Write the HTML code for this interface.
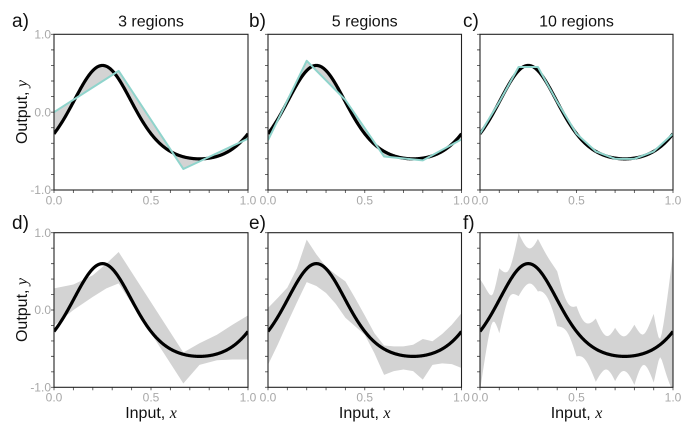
<!DOCTYPE html>
<html>
<head>
<meta charset="utf-8">
<style>
html,body{margin:0;padding:0;background:#ffffff;}
svg{display:block;}
text{font-family:"Liberation Sans",sans-serif;}
.lbl{font-size:19px;fill:#111;}
.ttl{font-size:16px;fill:#111;}
.ax{font-size:16px;fill:#111;}
.tk{font-size:12px;fill:#a8a8a8;}
.m{font-family:"Liberation Serif",serif;font-style:italic;}
</style>
</head>
<body>
<svg id="s" width="690" height="432" viewBox="0 0 690 432" xmlns="http://www.w3.org/2000/svg">
<g id="plots"></g>
<!-- panel letters -->
<text class="lbl" x="12" y="27">a)</text>
<text class="lbl" x="249" y="27">b)</text>
<text class="lbl" x="463" y="27">c)</text>
<text class="lbl" x="12" y="229">d)</text>
<text class="lbl" x="249" y="229">e)</text>
<text class="lbl" x="463" y="229">f)</text>
<!-- titles -->
<text class="ttl" x="151" y="26.5" text-anchor="middle">3 regions</text>
<text class="ttl" x="364.7" y="26.5" text-anchor="middle">5 regions</text>
<text class="ttl" x="576.5" y="26.5" text-anchor="middle">10 regions</text>
<!-- y labels -->
<text class="ax" transform="translate(27,112) rotate(-90)" text-anchor="middle">Output, <tspan class="m">y</tspan></text>
<text class="ax" transform="translate(27,310) rotate(-90)" text-anchor="middle">Output, <tspan class="m">y</tspan></text>
<!-- x labels -->
<text class="ax" x="151" y="418" text-anchor="middle">Input, <tspan class="m">x</tspan></text>
<text class="ax" x="364.7" y="418" text-anchor="middle">Input, <tspan class="m">x</tspan></text>
<text class="ax" x="576.5" y="418" text-anchor="middle">Input, <tspan class="m">x</tspan></text>
<!-- y tick labels -->
<text class="tk" x="51" y="38.5" text-anchor="end">1.0</text>
<text class="tk" x="51" y="116.4" text-anchor="end">0.0</text>
<text class="tk" x="51" y="194.2" text-anchor="end">-1.0</text>
<text class="tk" x="51" y="236.9" text-anchor="end">1.0</text>
<text class="tk" x="51" y="314.2" text-anchor="end">0.0</text>
<text class="tk" x="51" y="391.5" text-anchor="end">-1.0</text>
<!-- x tick labels top -->
<text class="tk" x="54" y="204.5" text-anchor="middle">0.0</text>
<text class="tk" x="151" y="204.5" text-anchor="middle">0.5</text>
<text class="tk" x="248" y="204.5" text-anchor="middle">1.0</text>
<text class="tk" x="268" y="204.5" text-anchor="middle">0.0</text>
<text class="tk" x="364.7" y="204.5" text-anchor="middle">0.5</text>
<text class="tk" x="461.5" y="204.5" text-anchor="middle">1.0</text>
<text class="tk" x="480" y="204.5" text-anchor="middle">0.0</text>
<text class="tk" x="576.5" y="204.5" text-anchor="middle">0.5</text>
<text class="tk" x="673" y="204.5" text-anchor="middle">1.0</text>
<!-- x tick labels bottom -->
<text class="tk" x="54" y="401.5" text-anchor="middle">0.0</text>
<text class="tk" x="151" y="401.5" text-anchor="middle">0.5</text>
<text class="tk" x="248" y="401.5" text-anchor="middle">1.0</text>
<text class="tk" x="268" y="401.5" text-anchor="middle">0.0</text>
<text class="tk" x="364.7" y="401.5" text-anchor="middle">0.5</text>
<text class="tk" x="461.5" y="401.5" text-anchor="middle">1.0</text>
<text class="tk" x="480" y="401.5" text-anchor="middle">0.0</text>
<text class="tk" x="576.5" y="401.5" text-anchor="middle">0.5</text>
<text class="tk" x="673" y="401.5" text-anchor="middle">1.0</text>
</svg>
<script>
(function(){
var NS="http://www.w3.org/2000/svg";
var root=document.getElementById('plots');
function el(tag,attrs,parent){var e=document.createElementNS(NS,tag);for(var k in attrs)e.setAttribute(k,attrs[k]);(parent||root).appendChild(e);return e;}
function f(x){return (Math.exp(Math.sin(2*Math.PI*x))-1.5430806)*0.51055;}
function interp(xs,ys,x){
  if(x<=xs[0])return ys[0];
  for(var i=0;i<xs.length-1;i++){
    if(x<=xs[i+1]){var t=(x-xs[i])/(xs[i+1]-xs[i]);return ys[i]*(1-t)+ys[i+1]*t;}
  }
  return ys[ys.length-1];
}
// smooth band: arrays alternate knot / mid / knot ...
function smoothBand(xs,us,ls,sub){
  var ox=[],ou=[],ol=[];
  for(var j=0;j+2<xs.length;j+=2){
    var ca=(us[j]+ls[j])/2, cm=(us[j+1]+ls[j+1])/2, cb=(us[j+2]+ls[j+2])/2;
    var sa=Math.pow((us[j]-ls[j])/2,2), sm=Math.pow((us[j+1]-ls[j+1])/2,2), sb=Math.pow((us[j+2]-ls[j+2])/2,2);
    for(var k=(j==0?0:1);k<=sub;k++){
      var t=k/sub;
      var L0=(1-t)*(1-2*t), L1=4*t*(1-t), L2=t*(2*t-1);
      var c=ca*L0+cm*L1+cb*L2;
      var v=Math.max(0,sa*L0+sm*L1+sb*L2);
      var s=Math.sqrt(v);
      ox.push(xs[j]+(xs[j+2]-xs[j])*t);ou.push(c+s);ol.push(c-s);
    }
  }
  return [ox,ou,ol];
}
var cnt=0;
function panel(cx0,cx1,cy0,cy1,opt){
  var X=function(x){return cx0+(cx1-cx0)*x;};
  var Y=function(y){return cy0+(cy1-cy0)*(1-y)/2;};
  var id='clp'+(cnt++);
  var cp=el('clipPath',{id:id});
  el('rect',{x:cx0,y:cy0,width:cx1-cx0,height:cy1-cy0},cp);
  var g=el('g',{'clip-path':'url(#'+id+')'});
  var N=400,i,x,pts;
  if(opt.fit){
    pts=[];
    for(i=0;i<=N;i++){x=i/N;pts.push(X(x).toFixed(2)+','+Y(f(x)).toFixed(2));}
    for(i=N;i>=0;i--){x=i/N;pts.push(X(x).toFixed(2)+','+Y(interp(opt.fit[0],opt.fit[1],x)).toFixed(2));}
    el('polygon',{points:pts.join(' '),fill:'#d3d3d3',stroke:'none'},g);
  }
  if(opt.band){
    var bx=opt.band[0],bu=opt.band[1],bl=opt.band[2];
    pts=[];
    for(i=0;i<bx.length;i++)pts.push(X(bx[i]).toFixed(2)+','+Y(bu[i]).toFixed(2));
    for(i=bx.length-1;i>=0;i--)pts.push(X(bx[i]).toFixed(2)+','+Y(bl[i]).toFixed(2));
    el('polygon',{points:pts.join(' '),fill:'#d3d3d3',stroke:'none'},g);
  }
  pts=[];
  for(i=0;i<=N;i++){x=i/N;pts.push(X(x).toFixed(2)+','+Y(f(x)).toFixed(2));}
  el('polyline',{points:pts.join(' '),fill:'none',stroke:'#000','stroke-width':3.2,'stroke-linejoin':'round'},g);
  if(opt.fit){
    pts=[];
    for(i=0;i<opt.fit[0].length;i++)pts.push(X(opt.fit[0][i]).toFixed(2)+','+Y(opt.fit[1][i]).toFixed(2));
    el('polyline',{points:pts.join(' '),fill:'none',stroke:'#8fd4cc','stroke-width':2,'stroke-linejoin':'round'},g);
  }
  var d='';
  for(i=0;i<=10;i++){var yy=Y(1-i*0.2);d+='M'+(cx0-3)+','+yy.toFixed(2)+'H'+cx0;}
  for(i=0;i<=10;i++){var xx=X(i*0.1);d+='M'+xx.toFixed(2)+','+cy1+'V'+(cy1+3);}
  el('path',{d:d,stroke:'#555','stroke-width':0.9,fill:'none'});
  el('rect',{x:cx0,y:cy0,width:cx1-cx0,height:cy1-cy0,fill:'none',stroke:'#222','stroke-width':1.1});
}
var cols=[[54,248],[268,461.5],[480,673]];
var T=[34.3,190],B=[232.7,387.3];
var k10=[],v10=[];
for(var i=0;i<=10;i++){k10.push(i/10);v10.push(f(i/10));}
v10[2]=0.58;v10[3]=0.58;v10[7]=-0.6;v10[8]=-0.6;
panel(cols[0][0],cols[0][1],T[0],T[1],{fit:[[0,1/3,2/3,1],[0.0,0.53,-0.73,-0.34]]});
panel(cols[1][0],cols[1][1],T[0],T[1],{fit:[[0,0.2,0.4,0.6,0.8,1],[-0.36,0.66,0.156,-0.57,-0.62,-0.35]]});
panel(cols[2][0],cols[2][1],T[0],T[1],{fit:[k10,v10]});
panel(cols[0][0],cols[0][1],B[0],B[1],{band:[
 [0,0.1,0.2,0.27,0.3333,0.5,0.6667,0.75,0.84,0.92,1],
 [0.28,0.33,0.45,0.6,0.75,0.1,-0.55,-0.43,-0.32,-0.19,-0.07],
 [-0.2,0.0,0.17,0.28,0.345,-0.30,-0.95,-0.71,-0.65,-0.64,-0.64]]});
panel(cols[1][0],cols[1][1],B[0],B[1],{band:[
 [0,0.05,0.1,0.15,0.2,0.25,0.3,0.35,0.4,0.45,0.5,0.55,0.6,0.65,0.7,0.75,0.8,0.85,0.9,0.95,1],
 [0.026,0.155,0.29,0.54,0.91,0.72,0.56,0.46,0.37,0.155,-0.07,-0.30,-0.46,-0.47,-0.47,-0.45,-0.375,-0.405,-0.31,-0.19,-0.04],
 [-0.71,-0.45,-0.17,0.1,0.36,0.31,0.22,0.08,-0.10,-0.21,-0.32,-0.56,-0.84,-0.79,-0.77,-0.79,-0.90,-0.71,-0.69,-0.70,-0.75]]});
var fb=smoothBand(
 [0,0.05,0.1,0.15,0.2,0.25,0.3,0.35,0.4,0.45,0.5,0.55,0.6,0.65,0.7,0.75,0.8,0.85,0.9,0.95,1],
 [0.40,0.20,0.54,0.52,0.996,0.80,0.92,0.69,0.50,0.11,0.05,-0.17,-0.11,-0.33,-0.23,-0.34,-0.19,-0.31,-0.05,-0.19,0.75],
 [-1.05,-0.28,-0.30,0.16,0.18,0.34,0.24,0.155,-0.21,-0.28,-0.60,-0.66,-0.93,-0.77,-0.92,-0.79,-0.97,-0.71,-0.94,-0.71,-1.05],12);
panel(cols[2][0],cols[2][1],B[0],B[1],{band:fb});
})();
</script>
</body>
</html>
